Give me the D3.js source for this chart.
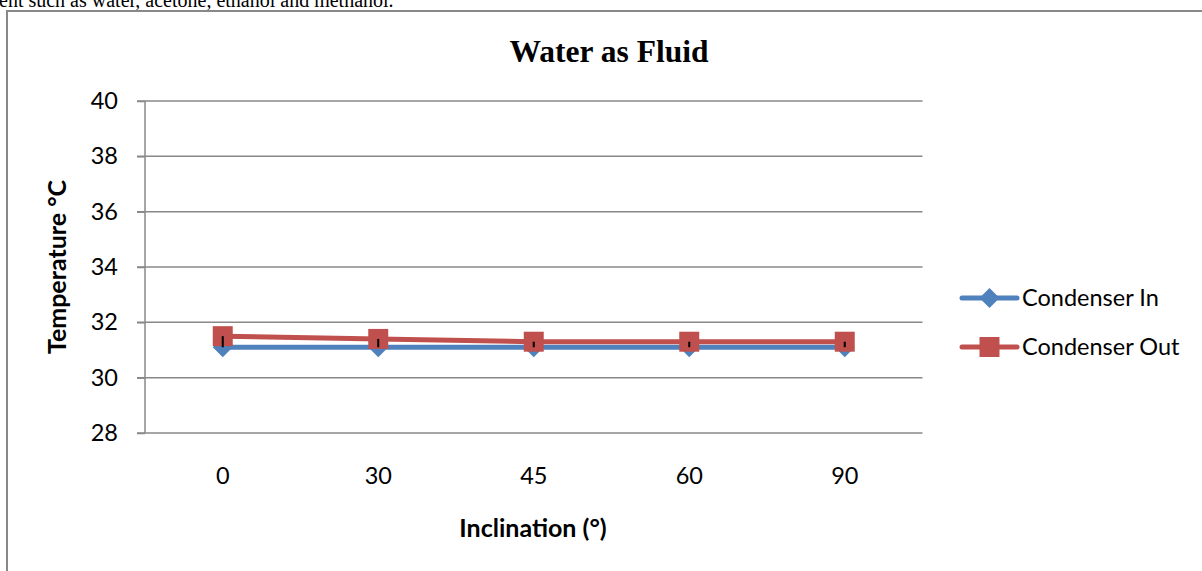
<!DOCTYPE html>
<html>
<head>
<meta charset="utf-8">
<script src="https://cdn.jsdelivr.net/npm/d3@7"></script>
<style>
  body { margin: 0; background: #fff; }
</style>
</head>
<body>
<div id="grafico"></div>
<script>
// datos
var inclinaciones = ["0", "30", "45", "60", "90"];
var condenserIn = [31.1, 31.1, 31.1, 31.1, 31.1];
var condenserOut = [31.5, 31.4, 31.3, 31.3, 31.3];
var errorOut = [0.4, 0.3, 0.2, 0.2, 0.2]; // barras de error hacia abajo
var ticksY = [28, 30, 32, 34, 36, 38, 40];
var series = ["Condenser In", "Condenser Out"];

var ancho = 1202, alto = 571;
var azul = "#4F81BD", rojo = "#C0504D", gris = "#888888";
var fuente = "Lato, 'Open Sans', sans-serif";
var tam = 23.5;
var tamTitulo = 25;

var svg = d3.select("#grafico").append("svg")
  .attr("width", ancho)
  .attr("height", alto);

// texto del documento cortado arriba
svg.append("text")
  .text("ent such as water, acetone, ethanol and methanol.")
  .attr("x", -1)
  .attr("y", 7)
  .attr("font-family", "'Liberation Serif', serif")
  .attr("font-size", 20)
  .attr("fill", "black");

// marco del grafico
svg.append("path")
  .attr("d", "M7," + alto + " L7,11 L" + (ancho + 5) + ",11")
  .attr("fill", "none")
  .attr("stroke", gris)
  .attr("stroke-width", 2);

// escalas
var x = d3.scaleBand().domain(inclinaciones).range([145, 922.5]);
var y = d3.scaleLinear().domain([28, 40]).range([433, 101]);

// lineas de cuadricula
svg.append("g")
  .selectAll("line")
  .data(ticksY)
  .enter()
  .append("line")
  .attr("x1", 137)
  .attr("x2", 922.5)
  .attr("y1", function(d){ return y(d); })
  .attr("y2", function(d){ return y(d); })
  .attr("stroke", gris)
  .attr("stroke-width", 1.5);

// eje y
var ejeY = svg.append("g")
  .attr("transform", "translate(145,0)")
  .call(d3.axisLeft(y).tickValues(ticksY).tickSize(8).tickPadding(19));
ejeY.selectAll("line, path").attr("stroke", gris).attr("stroke-width", 1.5);
ejeY.select(".domain").attr("d", "M0," + y(40) + "V" + y(28));
ejeY.selectAll("text")
  .attr("font-family", fuente)
  .attr("font-size", tam)
  .attr("fill", "black");

// eje x
var ejeX = svg.append("g")
  .attr("transform", "translate(0,433)")
  .call(d3.axisBottom(x).tickSize(0).tickPadding(34));
ejeX.select(".domain").remove();
ejeX.selectAll("text")
  .attr("font-family", fuente)
  .attr("font-size", tam)
  .attr("fill", "black");

// titulos
svg.append("text")
  .text("Water as Fluid")
  .attr("x", 609)
  .attr("y", 62)
  .style("text-anchor", "middle")
  .attr("font-family", "'Liberation Serif', serif")
  .attr("font-weight", "bold")
  .attr("font-size", 31.5)
  .attr("fill", "black");

svg.append("text")
  .text("Inclination (\u00B0)")
  .attr("x", 533)
  .attr("y", 537)
  .style("text-anchor", "middle")
  .attr("font-family", fuente)
  .attr("font-weight", "bold")
  .attr("font-size", tamTitulo)
  .attr("fill", "black");

svg.append("text")
  .text("Temperature \u00B0C")
  .attr("transform", "translate(66,267) rotate(-90)")
  .style("text-anchor", "middle")
  .attr("font-family", fuente)
  .attr("font-weight", "bold")
  .attr("font-size", tamTitulo)
  .attr("fill", "black");

var cx = function(d, i){ return x(inclinaciones[i]) + x.bandwidth() / 2; };
var linea = d3.line()
  .x(function(d, i){ return cx(d, i); })
  .y(function(d){ return y(d); });

var diamante = d3.symbol().type(d3.symbolSquare).size(200);
var cuadro = d3.symbol().type(d3.symbolSquare).size(400);

// serie Condenser In
svg.append("path")
  .datum(condenserIn)
  .attr("d", linea)
  .attr("fill", "none")
  .attr("stroke", azul)
  .attr("stroke-width", 5);

svg.append("g")
  .selectAll("path")
  .data(condenserIn)
  .enter()
  .append("path")
  .attr("d", diamante)
  .attr("transform", function(d, i){ return "translate(" + cx(d, i) + "," + y(d) + ") rotate(45)"; })
  .attr("fill", azul);

// serie Condenser Out
svg.append("path")
  .datum(condenserOut)
  .attr("d", linea)
  .attr("fill", "none")
  .attr("stroke", rojo)
  .attr("stroke-width", 5);

svg.append("g")
  .selectAll("path")
  .data(condenserOut)
  .enter()
  .append("path")
  .attr("d", cuadro)
  .attr("transform", function(d, i){ return "translate(" + cx(d, i) + "," + y(d) + ")"; })
  .attr("fill", rojo);

// barras de error
svg.append("g")
  .selectAll("line")
  .data(condenserOut)
  .enter()
  .append("line")
  .attr("x1", cx)
  .attr("x2", cx)
  .attr("y1", function(d){ return y(d); })
  .attr("y2", function(d, i){ return y(d - errorOut[i]); })
  .attr("stroke", "black")
  .attr("stroke-width", 2);

// leyenda
var leyenda = svg.append("g").attr("class", "leyenda");
var colores = [azul, rojo];
var simbolos = [diamante, cuadro];
var giros = [" rotate(45)", ""];
series.forEach(function(s, i){
  var yy = 298 + i * 49;
  leyenda.append("line")
    .attr("x1", 962).attr("x2", 1017)
    .attr("y1", yy).attr("y2", yy)
    .attr("stroke", colores[i])
    .attr("stroke-width", 5)
    .attr("stroke-linecap", "round");
  leyenda.append("path")
    .attr("d", simbolos[i])
    .attr("transform", "translate(989.5," + yy + ")" + giros[i])
    .attr("fill", colores[i]);
  leyenda.append("text")
    .text(s)
    .attr("x", 1022)
    .attr("y", yy + 8)
    .attr("font-family", fuente)
    .attr("font-size", tam)
    .attr("fill", "black");
});
</script>
</body>
</html>
